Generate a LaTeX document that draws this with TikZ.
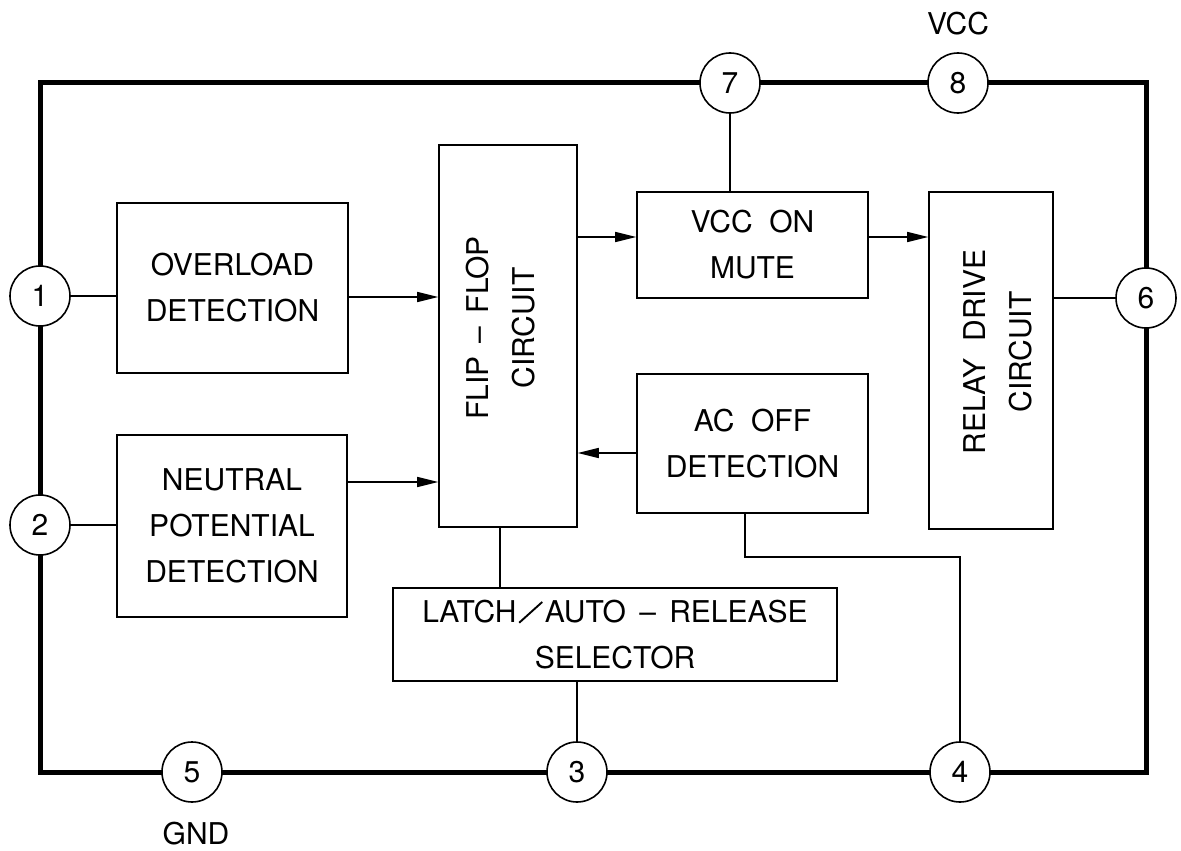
\documentclass[tikz,border=0pt]{standalone}
\usepackage{fontspec}
\usepackage{graphicx}
\setmainfont{TeX Gyre Heros}
\usetikzlibrary{arrows.meta,calc}
\newcommand{\dfs}{\fontsize{30}{46}\selectfont}
\newcommand{\wideslash}{\kern2pt\raisebox{-1pt}{\rotatebox{42}{\rule{31pt}{1.9pt}}}\kern2pt}
\tikzset{
  blk/.style={draw, line width=1.6pt, inner sep=0pt, align=center, font=\dfs},
  pin/.style={circle, draw, line width=1.6pt, fill=white, minimum size=60pt, inner sep=0pt, font=\dfs},
  lbl/.style={inner sep=0pt, font=\dfs},
  frameline/.style={line width=5pt, line join=miter},
  wire/.style={line width=1.6pt},
  arr/.style={wire, -{Triangle[length=21pt,width=10pt]}}
}
\begin{document}
\begin{tikzpicture}[x=1pt,y=-1pt]
\useasboundingbox (0,0) rectangle (1181,851);
% frame
\draw[frameline] (40,83) rectangle (1146,772);
% blocks
\node[blk, minimum width=231pt, minimum height=170pt] (ov) at (232.5,288) {OVERLOAD\\DETECTION};
\node[blk, minimum width=230pt, minimum height=182pt] (ne) at (232,526) {NEUTRAL\\POTENTIAL\\DETECTION};
\node[blk, minimum width=138pt, minimum height=382pt] (ff) at (508,336) {};
\node[lbl, rotate=90, align=center] (fft) at (501,328) {FLIP\ \,–\ \,FLOP\\CIRCUIT};
\node[blk, minimum width=231pt, minimum height=106pt] (vm) at (752.5,245) {VCC\ \ ON\\MUTE};
\node[blk, minimum width=231pt, minimum height=139pt] (ac) at (752.5,443.5) {AC\ \ OFF\\DETECTION};
\node[blk, minimum width=124pt, minimum height=337pt] (rd) at (991,360.5) {};
\node[lbl, rotate=90, align=center] (rdt) at (998,352) {RELAY\ \ DRIVE\\CIRCUIT};
\node[blk, minimum width=444pt, minimum height=93pt] (la) at (615,634.5) {LATCH\wideslash AUTO\ \,–\ \,RELEASE\\SELECTOR};
% pins
\node[pin] (p1) at (40,296) {1};
\node[pin] (p2) at (40,525) {2};
\node[pin] (p5) at (192,772) {5};
\node[pin] (p3) at (577,772) {3};
\node[pin] (p4) at (960,772) {4};
\node[pin] (p6) at (1146,298) {6};
\node[pin] (p7) at (730,83) {7};
\node[pin] (p8) at (958,83) {8};
\node[lbl] (vcc) at (958,24) {VCC};
\node[lbl] (gnd) at (196,834) {GND};
% connectors
\draw[wire] (p1.east) -- (p1.east -| ov.west);
\draw[wire] (p2.east) -- (p2.east -| ne.west);
\draw[arr] ([yshift=-9pt]ov.east) -- ([yshift=-9pt]ov.east -| ff.west);
\draw[arr] ([yshift=44pt]ne.east) -- ([yshift=44pt]ne.east -| ff.west);
\draw[arr] ([yshift=8pt]vm.west -| ff.east) -- ([yshift=8pt]vm.west);
\draw[arr] ([yshift=8pt]vm.east) -- ([yshift=8pt]vm.east -| rd.west);
\draw[arr] ([yshift=-9.5pt]ac.west) -- ([yshift=-9.5pt]ac.west -| ff.east);
\draw[wire] (p7.south) -- (p7.south |- vm.north);
\draw[wire] (rd.east |- p6.west) -- (p6.west);
\draw[wire] ([xshift=-8pt]ff.south) -- ([xshift=-8pt]ff.south |- la.north);
\draw[wire] (p3.north |- la.south) -- (p3.north);
\coordinate (bend) at (960,557);
\draw[wire] ([xshift=-7.5pt]ac.south) |- (bend) -- (p4.north);
\end{tikzpicture}
\end{document}
